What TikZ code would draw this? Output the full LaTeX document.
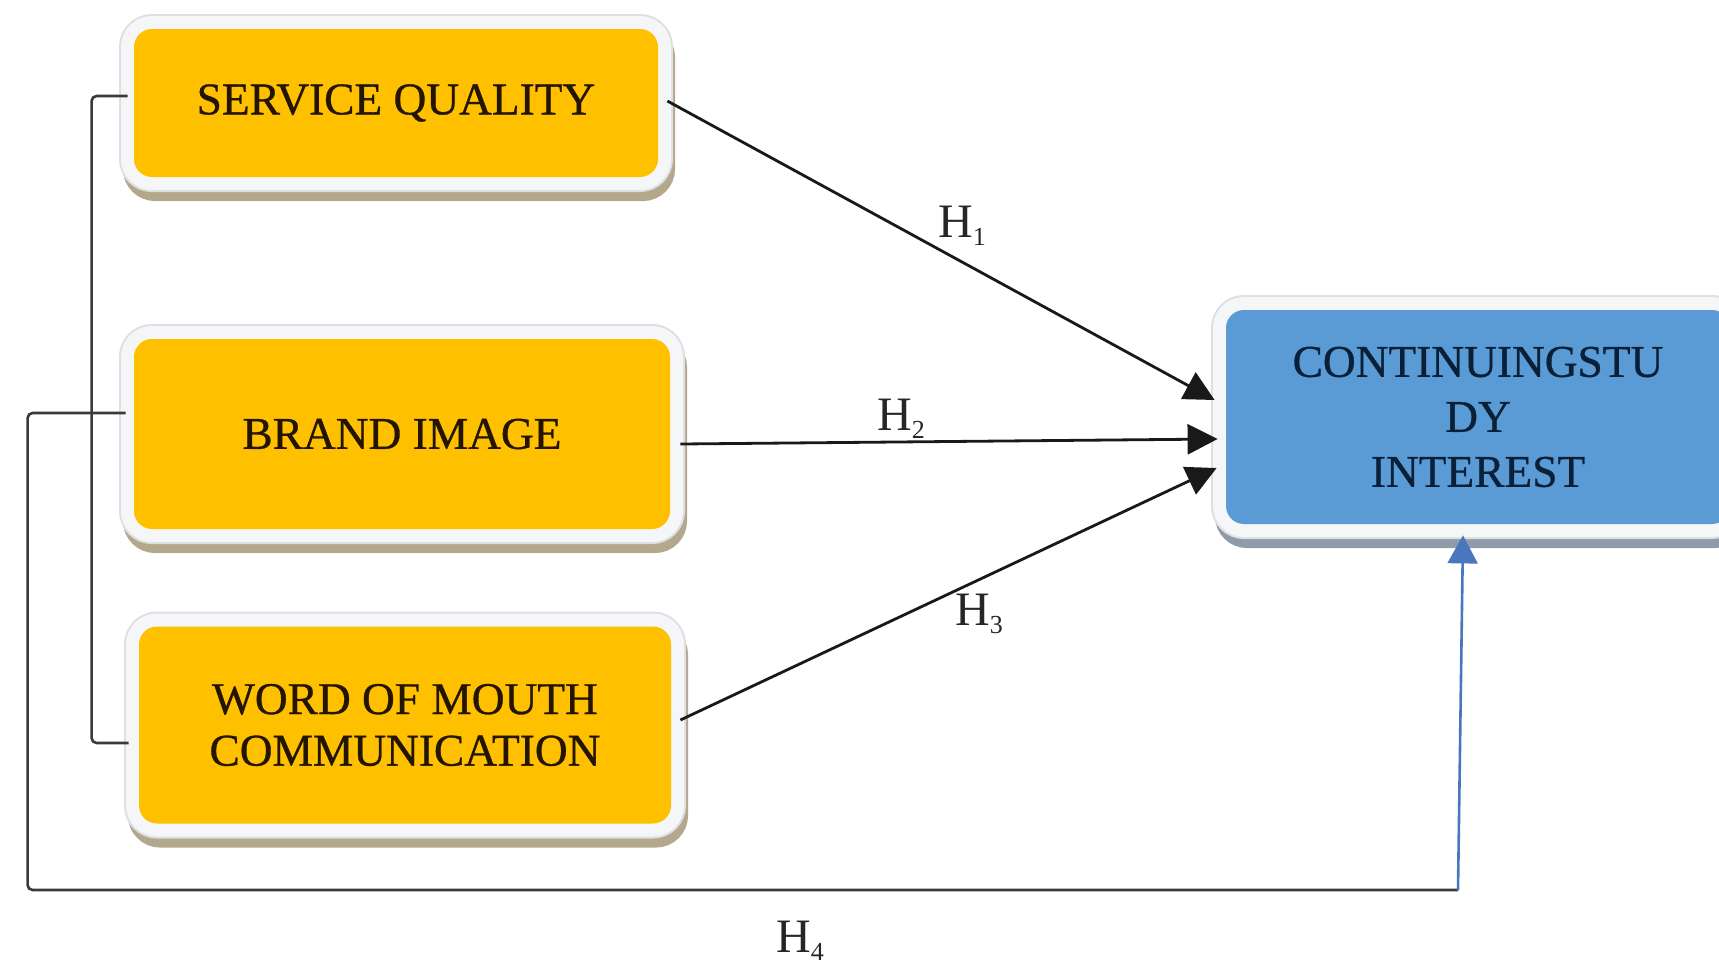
\documentclass[tikz,border=0pt]{standalone}
\usepackage{fontspec}
\setmainfont{Liberation Serif}
\usetikzlibrary{arrows.meta,calc}
\definecolor{gold}{HTML}{FFC000}
\definecolor{sblue}{HTML}{5B9BD5}
\definecolor{tanshadow}{HTML}{B3A88C}
\definecolor{blueshadow}{HTML}{8F9BA9}
\definecolor{rimcol}{HTML}{F5F6F8}
\definecolor{rimedge}{HTML}{DEDFE4}
\definecolor{linegrey}{HTML}{3A3A3A}
\definecolor{arrowblue}{HTML}{4A76BE}
\definecolor{txtbrown}{HTML}{231500}
\definecolor{txtnavy}{HTML}{0A2038}
\newcommand{\hsub}[1]{\raisebox{-0.35ex}{\fontsize{13}{13}\selectfont #1}}
\begin{document}
\begin{tikzpicture}[x=0.5pt,y=-0.5pt,
  boxbase/.style={rectangle, rounded corners=9pt, inner sep=0pt, align=center},
  goldbox/.style={boxbase, fill=gold, text=txtbrown,
     preaction={draw=tanshadow, fill=tanshadow, line width=14pt, transform canvas={xshift=1.5pt,yshift=-5pt}},
     preaction={draw=rimedge, line width=15pt},
     preaction={draw=rimcol, line width=13pt}},
  bluebox/.style={boxbase, fill=sblue, text=txtnavy,
     preaction={draw=blueshadow, fill=blueshadow, line width=14pt, transform canvas={xshift=1.5pt,yshift=-5pt}},
     preaction={draw=rimedge, line width=15pt},
     preaction={draw=rimcol, line width=13pt}},
  conn/.style={draw=black!90, line width=1.4pt, -{Triangle[length=15pt,width=15pt]}},
  bracket/.style={draw=linegrey, line width=1.3pt, rounded corners=2.5pt},
  upconn/.style={draw=arrowblue, line width=1.3pt, -{Triangle[length=14pt,width=15pt]}},
  hlab/.style={inner sep=0pt, text=black!85, font=\fontsize{24}{28}\selectfont}
]
\useasboundingbox (0,0) rectangle (1719,966);
\clip (0,0) rectangle (1719,966);

\node[goldbox, minimum width=262pt, minimum height=74pt,
      font=\fontsize{22.7}{26}\selectfont\addfontfeature{FakeBold=0.7}] (sq) at (396,103) {SERVICE QUALITY};
\node[goldbox, minimum width=268pt, minimum height=95pt,
      font=\fontsize{22.7}{26}\selectfont\addfontfeature{FakeBold=0.7}] (bi) at (402,434) {BRAND IMAGE};
\node[goldbox, minimum width=266pt, minimum height=98.5pt,
      font=\fontsize{22.7}{25.8}\selectfont\addfontfeature{FakeBold=0.7}] (wom) at (405,725) {WORD OF MOUTH\\COMMUNICATION};
\node[bluebox, minimum width=252pt, minimum height=107pt,
      font=\fontsize{22.7}{27.5}\selectfont\addfontfeature{FakeBold=0.7}] (csi) at (1478,417) {CONTINUINGSTU\\DY\\INTEREST};

\coordinate (t1) at ($(csi.west)+(-11,-17)$);
\coordinate (t2) at ($(csi.west)+(-8,22)$);
\coordinate (t3) at ($(csi.west)+(-9,51)$);
\coordinate (t4) at ($(csi.south)+(-15,11)$);
\coordinate (bc) at (1458,890);

\draw[conn] ($(sq.east)+(9,-2)$) -- (t1);
\draw[conn] ($(bi.east)+(10,10)$) -- (t2);
\draw[conn] ($(wom.east)+(9,-5)$) -- (t3);

\draw[bracket] ($(sq.west)+(-6,-7)$) -- ++(-36,0) |- ($(wom.west)+(-10,18)$);
\draw[bracket] ($(bi.west)+(-8,-21)$) -- ++(-98,0) |- (bc);
\draw[upconn] (bc) -- (t4);

\node[hlab] (h1) at (962,226) {H\hsub{1}};
\node[hlab] (h2) at (901,419) {H\hsub{2}};
\node[hlab] (h3) at (979,614) {H\hsub{3}};
\node[hlab] (h4) at (800,941) {H\hsub{4}};
\end{tikzpicture}
\end{document}
